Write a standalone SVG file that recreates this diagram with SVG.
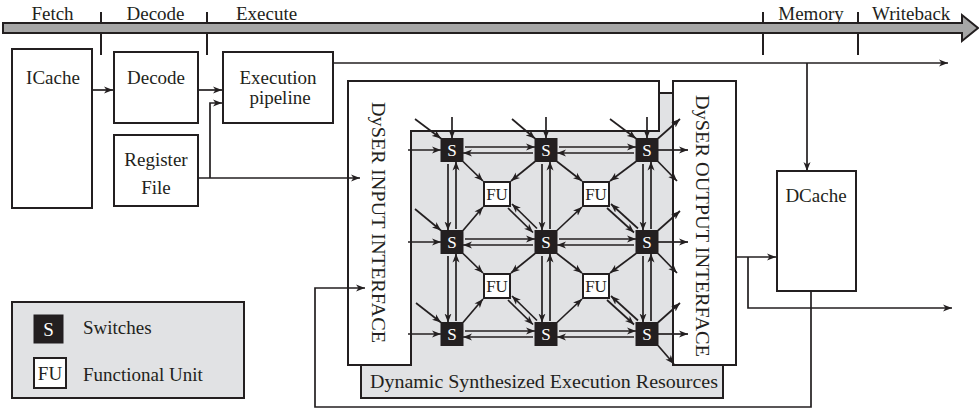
<svg xmlns="http://www.w3.org/2000/svg" width="979" height="410" viewBox="0 0 979 410">
<style>
text{font-family:"Liberation Serif","Times New Roman",serif;font-size:19px;fill:#231f20}
.box{fill:#fff;stroke:#231f20;stroke-width:2}
.gray{fill:#e1e2e4;stroke:#231f20;stroke-width:2}
.sw{fill:#231f20;stroke:#231f20;stroke-width:1}
.fu{fill:#fff;stroke:#231f20;stroke-width:2}
.st{fill:#fff;font-size:17px;text-anchor:middle}
.ft{font-size:17px;text-anchor:middle}
.mid{text-anchor:middle}
.c{fill:none;stroke:#231f20;stroke-width:1.7;marker-end:url(#ah)}
.l{fill:none;stroke:#231f20;stroke-width:2}
</style>
<defs>
<marker id="ah" markerUnits="userSpaceOnUse" markerWidth="10" markerHeight="8" refX="9" refY="4" orient="auto">
<path d="M0,0.5 L9,4 L0,7.5 L2.5,4 z" fill="#231f20"/>
</marker>
</defs>
<rect width="979" height="410" fill="#fff"/>

<g id="stages">
<path class="l" d="M101,12 V55 M207,12 V55 M763,12 V55 M858,12 V55"/>
<polygon points="3,23 962,23 962,15 978,28 962,41 962,33 3,33" fill="#a6a6a6" stroke="#231f20" stroke-width="2"/>
<text x="52.5" y="20" class="mid">Fetch</text>
<text x="155.5" y="20" class="mid">Decode</text>
<text x="236" y="20">Execute</text>
<text x="811" y="20" class="mid">Memory</text>
<text x="872" y="20">Writeback</text>
</g>

<g id="icache"><rect class="box" x="12" y="49" width="80" height="159"/><text x="53" y="84" class="mid">ICache</text></g>
<g id="decode"><rect class="box" x="114" y="52" width="84" height="71"/><text x="156" y="84" class="mid">Decode</text></g>
<g id="execpipe"><rect class="box" x="223" y="52" width="110" height="71"/><text x="278" y="84" class="mid">Execution</text><text x="280" y="104" class="mid">pipeline</text></g>
<g id="regfile"><rect class="box" x="114" y="135" width="84" height="71"/><text x="156" y="166" class="mid">Register</text><text x="156" y="194" class="mid">File</text></g>
<g id="dcache"><rect class="box" x="777" y="171" width="79" height="120"/><text x="816" y="202" class="mid">DCache</text></g>

<g id="dyser">
<rect class="gray" x="361" y="93" width="362" height="305"/>
<text x="370" y="388" textLength="348" lengthAdjust="spacingAndGlyphs">Dynamic Synthesized Execution Resources</text>
</g>
<g id="input-interface">
<polygon class="box" points="348,81 659,81 659,131 411,131 411,365 348,365"/>
<text transform="translate(372,222.5) rotate(90)" class="mid" textLength="241" lengthAdjust="spacingAndGlyphs">DySER INPUT INTERFACE</text>
</g>
<g id="output-interface">
<rect class="box" x="673" y="81" width="63" height="284"/>
<text transform="translate(696,226) rotate(90)" class="mid" textLength="262" lengthAdjust="spacingAndGlyphs">DySER OUTPUT INTERFACE</text>
</g>

<g id="switches">
<rect class="sw" x="441" y="138.5" width="22" height="23"/><text class="st" x="452" y="156">S</text>
<rect class="sw" x="535" y="138.5" width="22" height="23"/><text class="st" x="546" y="156">S</text>
<rect class="sw" x="636" y="138.5" width="22" height="23"/><text class="st" x="647" y="156">S</text>
<rect class="sw" x="441" y="230.5" width="22" height="23"/><text class="st" x="452" y="248">S</text>
<rect class="sw" x="535" y="230.5" width="22" height="23"/><text class="st" x="546" y="248">S</text>
<rect class="sw" x="636" y="230.5" width="22" height="23"/><text class="st" x="647" y="248">S</text>
<rect class="sw" x="441" y="322.5" width="22" height="23"/><text class="st" x="452" y="340">S</text>
<rect class="sw" x="535" y="322.5" width="22" height="23"/><text class="st" x="546" y="340">S</text>
<rect class="sw" x="636" y="322.5" width="22" height="23"/><text class="st" x="647" y="340">S</text>
</g>
<g id="fus">
<rect class="fu" x="484" y="182" width="26" height="24"/><text class="ft" x="497" y="200">FU</text>
<rect class="fu" x="583" y="182" width="26" height="24"/><text class="ft" x="596" y="200">FU</text>
<rect class="fu" x="484" y="274" width="26" height="24"/><text class="ft" x="497" y="292">FU</text>
<rect class="fu" x="583" y="274" width="26" height="24"/><text class="ft" x="596" y="292">FU</text>
</g>

<g id="connectors">
<path class="c" d="M92,90 H113"/>
<path class="c" d="M198,90 H222"/>
<path class="c" d="M198,178 H360"/>
<path class="c" d="M210,178 V103 H222"/>
<path class="c" d="M333,63 H948"/>
<path class="c" d="M807,63 V171"/>
<path class="c" d="M736,257 H776"/>
<path class="c" d="M748,257 V308 H952"/>
<path class="c" d="M811,291 V407 H315 V288 H365"/>

<!-- horizontal switch pairs -->
<path class="c" d="M465,147 H535"/><path class="c" d="M533,153 H463"/>
<path class="c" d="M559,147 H636"/><path class="c" d="M634,153 H557"/>
<path class="c" d="M465,239 H535"/><path class="c" d="M533,245 H463"/>
<path class="c" d="M559,239 H636"/><path class="c" d="M634,245 H557"/>
<path class="c" d="M465,331 H535"/><path class="c" d="M533,337 H463"/>
<path class="c" d="M559,331 H636"/><path class="c" d="M634,337 H557"/>
<!-- vertical switch pairs -->
<path class="c" d="M448,164 V230.5"/><path class="c" d="M456,229 V161.5"/>
<path class="c" d="M448,256 V322.5"/><path class="c" d="M456,321 V253.5"/>
<path class="c" d="M542,164 V230.5"/><path class="c" d="M550,229 V161.5"/>
<path class="c" d="M542,256 V322.5"/><path class="c" d="M550,321 V253.5"/>
<path class="c" d="M643,164 V230.5"/><path class="c" d="M651,229 V161.5"/>
<path class="c" d="M643,256 V322.5"/><path class="c" d="M651,321 V253.5"/>
<!-- FU links -->
<path class="c" d="M463,161.5 L483,181"/><path class="c" d="M535,161.5 L511,181"/><path class="c" d="M463,230.5 L483,207"/>
<path class="c" d="M537,228.5 L512,204"/><path class="c" d="M508,208 L533,232.5"/>
<path class="c" d="M557,161.5 L582,181"/><path class="c" d="M636,161.5 L610,181"/><path class="c" d="M557,230.5 L582,207"/>
<path class="c" d="M638,228.5 L611,204"/><path class="c" d="M607,208 L634,232.5"/>
<path class="c" d="M463,253.5 L483,273"/><path class="c" d="M535,253.5 L511,273"/><path class="c" d="M463,322.5 L483,299"/>
<path class="c" d="M537,320.5 L512,296"/><path class="c" d="M508,300 L533,324.5"/>
<path class="c" d="M557,253.5 L582,273"/><path class="c" d="M636,253.5 L610,273"/><path class="c" d="M557,322.5 L582,299"/>
<path class="c" d="M638,320.5 L611,296"/><path class="c" d="M607,300 L634,324.5"/>
<!-- inputs -->
<path class="c" d="M452,117 V138.5"/><path class="c" d="M546,117 V138.5"/><path class="c" d="M647,117 V138.5"/>
<path class="c" d="M415,119 L441,138.5"/><path class="c" d="M512,119 L535,138.5"/><path class="c" d="M610,119 L636,138.5"/>
<path class="c" d="M408,150 H441"/><path class="c" d="M408,242 H441"/><path class="c" d="M408,334 H441"/>
<path class="c" d="M415,209 L441,230.5"/><path class="c" d="M416,303 L441,322.5"/>
<!-- outputs -->
<path class="c" d="M658,150 H688"/><path class="c" d="M658,138.5 L680,119"/><path class="c" d="M658,161.5 L677,181"/>
<path class="c" d="M658,242 H688"/><path class="c" d="M658,230.5 L680,211"/><path class="c" d="M658,253.5 L677,273"/>
<path class="c" d="M658,334 H688"/><path class="c" d="M658,322.5 L680,303"/><path class="c" d="M658,345.5 L674,364"/>
</g>

<g id="legend">
<rect class="gray" x="12" y="302" width="232" height="96"/>
<rect class="sw" x="34" y="315" width="29" height="28"/><text class="st" x="48.5" y="336" style="font-size:19px">S</text>
<text x="83" y="334">Switches</text>
<rect class="fu" x="34" y="358" width="32" height="30"/><text class="ft" x="50" y="380" style="font-size:19px">FU</text>
<text x="83" y="381">Functional Unit</text>
</g>
</svg>
